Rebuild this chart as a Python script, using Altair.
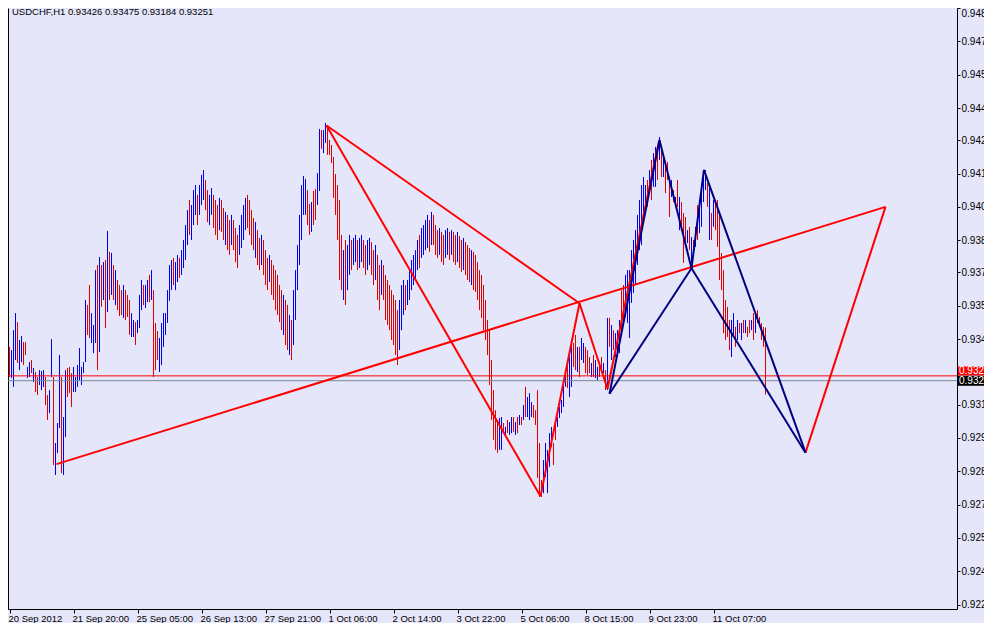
import pandas as pd
import altair as alt

FONT = "Liberation Sans"
BG = "#E6E6FA"
UP_COLOR = "#0000ee"
DOWN_COLOR = "#e00000"
PATTERN_RED = "#ff0000"
PATTERN_NAVY = "#000080"
BID_COLOR = "#778899"

SYMBOL_TITLE = "USDCHF,H1  0.93426 0.93475 0.93184 0.93251"

X_TICK_BARS = [0, 32, 64, 96, 128, 160, 192, 224, 256, 288, 320, 352]
X_TICK_LABELS = ["20 Sep 2012", "21 Sep 20:00", "25 Sep 05:00", "26 Sep 13:00",
                 "27 Sep 21:00", "1 Oct 06:00", "2 Oct 14:00", "3 Oct 22:00",
                 "5 Oct 06:00", "8 Oct 15:00", "9 Oct 23:00", "11 Oct 07:00"]

Y_TICKS = [0.94865, 0.94720, 0.94575, 0.94430, 0.94290, 0.94145, 0.94000, 0.93855,
           0.93715, 0.93570, 0.93425, 0.93140, 0.92995, 0.92850, 0.92705, 0.92560,
           0.92415, 0.92270]

# hourly bar highs / lows in points (price * 100000)
HIGH = [
    93391, 93377, 93464, 93538, 93499, 93421, 93438, 93412, 93412, 93304,
    93325, 93334, 93299, 93282, 93260, 93290, 93286, 93290, 93260, 93182,
    93203, 93425, 93260, 92973, 93060, 93356, 93260, 93086, 93290, 93299,
    93304, 93277, 93304, 93260, 93312, 93386, 93304, 93325, 93595, 93573,
    93660, 93538, 93486, 93725, 93747, 93782, 93747, 93760, 93769, 93895,
    93804, 93800, 93747, 93725, 93682, 93660, 93638, 93660, 93638, 93617,
    93595, 93538, 93508, 93499, 93508, 93617, 93682, 93660, 93660, 93682,
    93704, 93725, 93638, 93495, 93460, 93430, 93495, 93538, 93538, 93638,
    93747, 93769, 93778, 93760, 93791, 93778, 93812, 93856, 93921, 93986,
    94030, 94008, 94073, 94095, 94052, 94095, 94139, 94160, 94117, 94073,
    94052, 94082, 94052, 94030, 94008, 94039, 94030, 93995, 93978, 93965,
    93943, 93965, 93943, 93908, 93878, 93921, 93965, 94008, 94039, 94052,
    94030, 93986, 93952, 93934, 93899, 93865, 93878, 93856, 93812, 93778,
    93791, 93769, 93747, 93725, 93704, 93660, 93638, 93617, 93595, 93573,
    93530, 93508, 93638, 93725, 93834, 93965, 94095, 94134, 94121, 94073,
    94013, 94021, 94069, 94078, 94147, 94339, 94334, 94334, 94365, 94356,
    94291, 94269, 94217, 94143, 94095, 94030, 93878, 93812, 93856, 93834,
    93878, 93856, 93865, 93878, 93856, 93865, 93878, 93856, 93834, 93856,
    93865, 93847, 93812, 93834, 93791, 93747, 93769, 93747, 93704, 93682,
    93660, 93638, 93617, 93595, 93551, 93595, 93660, 93682, 93660, 93682,
    93725, 93769, 93791, 93812, 93856, 93878, 93908, 93921, 93943, 93965,
    93943, 93978, 93965, 93921, 93899, 93908, 93891, 93878, 93899, 93908,
    93891, 93899, 93891, 93878, 93891, 93873, 93856, 93865, 93847, 93834,
    93821, 93812, 93804, 93791, 93760, 93725, 93704, 93660, 93595, 93508,
    93464, 93334, 93203, 93116, 93073, 93082, 93086, 93060, 93043, 93073,
    93064, 93086, 93086, 93064, 93086, 93095, 93086, 93138, 93217, 93173,
    93190, 93151, 93138, 93116, 93203, 92973, 92812, 92899, 92973, 92943,
    93016, 93043, 92973, 93073, 93086, 93130, 93160, 93247, 93290, 93321,
    93347, 93425, 93408, 93443, 93391, 93391, 93430, 93408, 93391, 93377,
    93347, 93321, 93356, 93334, 93304, 93321, 93347, 93321, 93290, 93517,
    93517, 93486, 93464, 93451, 93464, 93508, 93638, 93660, 93704, 93725,
    93725, 93812, 93856, 93899, 93965, 94030, 94095, 94130, 94095, 94117,
    94160, 94204, 94234, 94261, 94261, 94304, 94269, 94217, 94191, 94195,
    94130, 94117, 94073, 94043, 94117, 94043, 94021, 93973, 93956, 93899,
    93913, 93869, 93856, 93913, 94008, 94000, 94104, 94160, 94160, 94104,
    94087, 93973, 94030, 94030, 94030, 93973, 93799, 93725, 93595, 93565,
    93508, 93508, 93538, 93478, 93508, 93495, 93495, 93508, 93508, 93478,
    93508, 93508, 93538, 93538, 93551, 93521, 93495, 93478, 93475,
]
LOW = [
    93260, 93256, 93217, 93334, 93321, 93290, 93325, 93312, 93356, 93256,
    93260, 93277, 93238, 93195, 93182, 93225, 93203, 93217, 93138, 93073,
    93103, 93260, 92877, 92834, 92929, 93038, 92842, 92834, 92999, 93173,
    93190, 93130, 93195, 93195, 93217, 93247, 93225, 93277, 93325, 93443,
    93430, 93408, 93364, 93408, 93290, 93369, 93565, 93595, 93473, 93543,
    93595, 93617, 93595, 93573, 93551, 93525, 93530, 93517, 93508, 93521,
    93443, 93434, 93434, 93399, 93451, 93473, 93551, 93573, 93560, 93586,
    93586, 93595, 93260, 93290, 93334, 93282, 93312, 93391, 93443, 93495,
    93591, 93638, 93660, 93638, 93673, 93691, 93704, 93734, 93769, 93834,
    93878, 93856, 93921, 93965, 93921, 93965, 94008, 94030, 93986, 93934,
    93921, 93965, 93908, 93878, 93856, 93899, 93891, 93856, 93834, 93812,
    93791, 93834, 93812, 93760, 93734, 93791, 93821, 93856, 93899, 93908,
    93878, 93834, 93812, 93778, 93747, 93725, 93747, 93704, 93660, 93638,
    93673, 93617, 93595, 93551, 93530, 93499, 93464, 93443, 93399, 93377,
    93356, 93334, 93399, 93508, 93638, 93747, 93856, 93965, 93965, 93921,
    93878, 93891, 93921, 93943, 94008, 94069, 94252, 94234, 94278, 94226,
    94226, 94191, 94039, 93965, 93856, 93682, 93638, 93595, 93573, 93638,
    93704, 93725, 93747, 93760, 93725, 93734, 93760, 93734, 93704, 93725,
    93747, 93704, 93660, 93682, 93595, 93551, 93617, 93595, 93508, 93486,
    93464, 93421, 93399, 93356, 93312, 93377, 93464, 93530, 93551, 93573,
    93595, 93638, 93660, 93682, 93725, 93734, 93778, 93791, 93812, 93821,
    93804, 93834, 93834, 93791, 93778, 93791, 93760, 93747, 93778, 93791,
    93769, 93791, 93760, 93747, 93760, 93734, 93717, 93725, 93704, 93682,
    93673, 93660, 93638, 93630, 93595, 93551, 93517, 93464, 93421, 93356,
    93225, 93073, 92987, 92943, 92930, 92943, 92943, 93016, 93008, 93016,
    93008, 93016, 93021, 93008, 93016, 93051, 93051, 93073, 93086, 93086,
    93073, 93086, 93082, 93051, 92821, 92738, 92738, 92755, 92825, 92755,
    92869, 92956, 92877, 92986, 93043, 93082, 93103, 93130, 93217, 93212,
    93173, 93217, 93304, 93290, 93282, 93260, 93334, 93321, 93277, 93269,
    93277, 93260, 93260, 93256, 93247, 93260, 93277, 93277, 93203, 93203,
    93391, 93334, 93377, 93347, 93347, 93364, 93464, 93495, 93521, 93495,
    93430, 93582, 93626, 93660, 93747, 93812, 93834, 93965, 94008, 94000,
    94065, 94030, 94087, 94087, 94117, 94204, 94130, 94130, 94060, 94117,
    93956, 94043, 94021, 94000, 94000, 93899, 93899, 93757, 93826, 93843,
    93812, 93757, 93782, 93826, 93856, 93886, 93913, 94021, 94073, 94000,
    93856, 93856, 93913, 93899, 93826, 93682, 93638, 93451, 93421, 93434,
    93377, 93347, 93434, 93391, 93421, 93451, 93421, 93451, 93451, 93434,
    93451, 93464, 93421, 93451, 93495, 93478, 93421, 93391, 93184,
]
# bar direction, u = up bar (blue), d = down bar (red)
DIRECTION = "".join([
    "duuuduuddu", "ududduuudd", "uuduuuduud", "dduuuuuuud", "duuudududu",
    "dududddudd", "duuduuuduu", "duddduuuuu", "uuduuduuuu", "duuuduuudd",
    "uuddduddud", "duddduuuud", "dddudduddd", "uddddddudd", "uduuuuuuud",
    "dudduuduud", "dddddddudu", "uduuduuddu", "uddudduddd", "ddddduuudu",
    "uuuuuduuuu", "dudddudduu", "dudduddudd", "dudddddddd", "ddddduudud",
    "uududududu", "uuddddduuu", "uudduuuuud", "uudduduudd", "duduuddudu",
    "duduuudduu", "uuuuuuuuud", "uduudududd", "dudududddu", "dududuuuud",
    "ududdddddd", "duudududud", "dududdddd",
])

# harmonic pattern vertices: (bar index, price in points)
PATTERN_POINTS = {
    "X": (23.5, 92881), "A": (158.5, 94354), "B": (265.5, 92741),
    "C": (285.0, 93581), "Dr": (299.0, 93209), "Er": (324.7, 94284),
    "F": (438.0, 94000),
    "Dn": (300.0, 93187), "En": (325.0, 94291), "Bn": (341.0, 93733),
    "Cn": (347.2, 94161), "G": (398.0, 92931),
}
RED_SEGMENTS = [("X", "F"), ("A", "C"), ("A", "B"), ("B", "C"), ("C", "Dr"),
                ("Dr", "Er"), ("G", "F")]
NAVY_SEGMENTS = [("Dn", "En"), ("En", "Bn"), ("Bn", "Cn"), ("Cn", "G"),
                 ("Dn", "Bn"), ("Bn", "G")]

H_LINE_PRICES = [0.93265, 0.93244]
H_LINE_COLORS = ["#ff0000", BID_COLOR]

BOX_PRICES = [0.93286, 0.93244]
BOX_LABELS = ["0.93272", "0.93251"]
BOX_COLORS = ["#ff0000", "#000000"]
BOX_HEIGHTS = [9, 10]

# ---------------------------------------------------------------- data frames
n = len(HIGH)
assert len(LOW) == n and len(DIRECTION) == n
bars = pd.DataFrame({
    "bar": list(range(n)),
    "high": [v / 1e5 for v in HIGH],
    "low": [v / 1e5 for v in LOW],
    "dir": list(DIRECTION),
})

seg_rows = []
for segs, col in ((RED_SEGMENTS, PATTERN_RED), (NAVY_SEGMENTS, PATTERN_NAVY)):
    for a, b in segs:
        xa, ya = PATTERN_POINTS[a]
        xb, yb = PATTERN_POINTS[b]
        seg_rows.append({"x": xa, "y": ya / 1e5, "x2": xb, "y2": yb / 1e5, "color": col})
segments = pd.DataFrame(seg_rows)

hlines = pd.DataFrame({"price": H_LINE_PRICES, "color": H_LINE_COLORS})
boxes = pd.DataFrame({"price": BOX_PRICES, "label": BOX_LABELS,
                      "color": BOX_COLORS, "h": BOX_HEIGHTS})
title_df = pd.DataFrame({"t": [SYMBOL_TITLE]})

# ---------------------------------------------------------------- scales/axes
xscale = alt.Scale(domain=[-0.75, 473.75], nice=False, zero=False)
yscale = alt.Scale(domain=[0.92251, 0.94865], nice=False, zero=False)

label_expr = " : ".join(
    f"datum.value == {v} ? '{lab}'" for v, lab in zip(X_TICK_BARS, X_TICK_LABELS)
) + " : ''"

x_axis = alt.Axis(values=X_TICK_BARS, labelExpr=label_expr, title=None, grid=False,
                  orient="bottom", tickSize=4, tickColor="black",
                  domainColor="black", labelColor="black", labelFont=FONT,
                  labelFontSize=9.5, labelAlign="left", labelBaseline="top",
                  labelPadding=0, labelOffset=-1.5, labelFlush=False,
                  labelOverlap=False)
y_axis_right = alt.Axis(values=Y_TICKS, format=".5f", orient="right", title=None,
                        grid=False, tickSize=3, tickColor="black",
                        domainColor="black", labelColor="black", labelFont=FONT,
                        labelFontSize=10, labelPadding=1, labelFlush=False,
                        labelOverlap=False,
                        labelBaseline={"condition": {"test": "datum.value > 0.9486",
                                                     "value": "top"},
                                       "value": "middle"})
y_axis_left = alt.Axis(orient="left", labels=False, ticks=False, title=None,
                       grid=False, domainColor="black")

bar_layer = alt.Chart(bars).mark_rule(strokeWidth=1).encode(
    x=alt.X("bar:Q", scale=xscale, axis=x_axis),
    y=alt.Y("high:Q", scale=yscale, axis=y_axis_right),
    y2="low:Q",
    color=alt.Color("dir:N", scale=alt.Scale(domain=["u", "d"],
                                             range=[UP_COLOR, DOWN_COLOR]),
                    legend=None),
)

hline_layer = alt.Chart(hlines).mark_rule(strokeWidth=1).encode(
    y=alt.Y("price:Q", scale=yscale, axis=y_axis_left),
    color=alt.Color("color:N", scale=None),
)

seg_layer = alt.Chart(segments).mark_rule(strokeWidth=2).encode(
    x=alt.X("x:Q", scale=xscale, axis=x_axis),
    x2="x2:Q",
    y=alt.Y("y:Q", scale=yscale, axis=None),
    y2="y2:Q",
    color=alt.Color("color:N", scale=None),
)

box_layer = alt.Chart(boxes).mark_rule().encode(
    x=alt.value(950), x2=alt.value(985),
    y=alt.Y("price:Q", scale=yscale, axis=None),
    color=alt.Color("color:N", scale=None),
    strokeWidth=alt.StrokeWidth("h:Q", scale=None),
)

box_text = alt.Chart(boxes).mark_text(align="left", baseline="middle", font=FONT,
                                      fontSize=10, color="white").encode(
    x=alt.value(951),
    y=alt.Y("price:Q", scale=yscale, axis=None),
    text="label:N",
)

title_layer = alt.Chart(title_df).mark_text(align="left", baseline="alphabetic",
                                            font=FONT, fontSize=9.5,
                                            color="black").encode(
    x=alt.value(4), y=alt.value(7), text="t:N",
)

chart = alt.layer(
    bar_layer, hline_layer, seg_layer, box_layer, box_text, title_layer
).resolve_axis(y="independent").properties(
    width=949, height=601, background=BG,
    padding={"left": 0, "top": 0, "right": 27, "bottom": 14},
    autosize=alt.AutoSizeParams(type="none"),
).configure_view(stroke=None)

chart.save("out.html", embed_options={"renderer": "svg", "actions": False})
